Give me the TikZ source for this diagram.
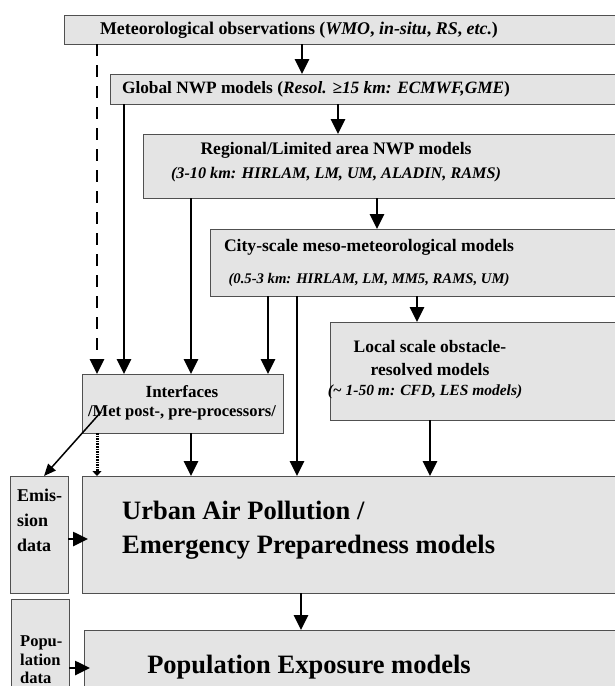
\documentclass[tikz,border=0pt]{standalone}
\usepackage{fontspec}
\setmainfont{Liberation Serif}
\usetikzlibrary{arrows.meta,calc}
\definecolor{boxfill}{HTML}{E4E4E4}
\definecolor{boxline}{HTML}{505050}
\tikzset{
  box/.style={draw=boxline, fill=boxfill, line width=1pt, rectangle, anchor=north west, inner sep=0pt, outer sep=0pt},
  lbl/.style={inner sep=0pt, align=center},
  arr/.style={line width=2.6pt, -{Triangle[width=14pt,length=15pt]}},
  dasharr/.style={line width=2.6pt, dash pattern=on 12pt off 9pt, -{Triangle[width=14pt,length=15pt]}},
  dotarr/.style={line width=3pt, dash pattern=on 1.6pt off 1pt, -{Triangle[width=9pt,length=5pt]}},
  thinarr/.style={line width=1.5pt, -{Triangle[width=10pt,length=12pt]}},
  fs/.style={font=\fontsize{#1}{#1}\selectfont\bfseries},
  fC/.style={font=\fontsize{26.5}{34}\selectfont\bfseries},
}
\begin{document}
\begin{tikzpicture}[x=1pt,y=-1pt]
\path[use as bounding box, clip] (0,0) rectangle (615,686);
% boxes
\node[box, minimum width=556pt, minimum height=29pt] (met) at (64,15) {};
\node[box, minimum width=510pt, minimum height=30pt] (glob) at (110,74) {};
\node[box, minimum width=477pt, minimum height=64pt] (reg) at (143,134) {};
\node[box, minimum width=410pt, minimum height=67pt] (city) at (210,229) {};
\node[box, minimum width=290pt, minimum height=98pt] (local) at (330,322) {};
\node[box, minimum width=201pt, minimum height=59pt] (intf) at (82,374) {};
\node[box, minimum width=58pt, minimum height=117pt] (emis) at (10,476) {};
\node[box, minimum width=538pt, minimum height=117pt] (urban) at (82,476) {};
\node[box, minimum width=58pt, minimum height=100pt] (popd) at (11,599) {};
\node[box, minimum width=536pt, minimum height=70pt] (pop) at (84,630) {};
% texts
\node[lbl, fs=17.9] (mett) at (299,30) {Meteorological observations (\textit{WMO}, \textit{in-situ}, \textit{RS}, \textit{etc.})};
\node[lbl, fs=17.3] (globt) at (316,89) {Global NWP models (\textit{Resol. ≥15 km: ECMWF,GME})};
\node[lbl, fs=17.6] (regt1) at (336,150) {Regional/Limited area NWP models};
\node[lbl, fs=16.2] (regt2) at (336,175) {\textit{(3-10 km: HIRLAM, LM, UM, ALADIN, RAMS)}};
\node[lbl, fs=17.6] (cityt1) at (369,247) {City-scale meso-meteorological models};
\node[lbl, fs=14.7] (cityt2) at (369,280) {\textit{(0.5-3 km: HIRLAM, LM, MM5, RAMS, UM)}};
\node[lbl, fs=17.5] (localt1) at (430,347) {Local scale obstacle-};
\node[lbl, fs=17.5] (localt2) at (430,370) {resolved models};
\node[lbl, fs=15.5] (localt3) at (425,392) {\textit{(\textasciitilde{} 1-50 m: CFD, LES models)}};
\node[lbl, fs=17] (intft1) at (182,392) {Interfaces};
\node[lbl, fs=16.5] (intft2) at (182,413) {/Met post-, pre-processors/};
\node[lbl, fC, align=left, anchor=west] (urbant) at (122,530) {Urban Air Pollution /\\Emergency Preparedness models};
\node[lbl, fC] (popt) at (309,667) {Population Exposure models};
\node[lbl, font=\fontsize{18}{25}\selectfont\bfseries, align=left, anchor=west] (emist) at (17,520) {Emis-\\sion\\data};
\node[lbl, font=\fontsize{16.5}{18.5}\selectfont\bfseries, align=left, anchor=west] (popdt) at (20,660) {Popu-\\lation\\data};
% x positions
\coordinate (c97) at (97,0);
\coordinate (c124) at (124,0);
\coordinate (c191) at (191,0);
\coordinate (c268) at (268,0);
\coordinate (c297) at (297,0);
\coordinate (c301) at (301,0);
\coordinate (c302) at (302,0);
\coordinate (c338) at (338,0);
\coordinate (c377) at (377,0);
\coordinate (c417) at (417,0);
\coordinate (c430) at (430,0);
\coordinate (c44) at (44,0);
\coordinate (y539) at (0,539);
\coordinate (y668) at (0,668);
\coordinate (dstart) at (101,412);
% connectors
\draw[arr] (met.south -| c302) -- (glob.north -| c302);
\draw[arr] (glob.south -| c338) -- (reg.north -| c338);
\draw[arr] (reg.south -| c377) -- (city.north -| c377);
\draw[arr] (city.south -| c417) -- (local.north -| c417);
\draw[dasharr] (met.south -| c97) -- (intf.north -| c97);
\draw[arr] (glob.south -| c124) -- (intf.north -| c124);
\draw[arr] (reg.south -| c191) -- (intf.north -| c191);
\draw[arr] (city.south -| c268) -- (intf.north -| c268);
\draw[arr] (city.south -| c297) -- (urban.north -| c297);
\draw[arr] (local.south -| c430) -- (urban.north -| c430);
\draw[arr] (intf.south -| c191) -- (urban.north -| c191);
\draw[dotarr] (intf.south -| c97) -- (urban.north -| c97);
\draw[thinarr] (dstart) -- (emis.north -| c44);
\draw[arr] (emis.east |- y539) -- ($(urban.west |- y539)+(6,0)$);
\draw[arr] (urban.south -| c301) -- (pop.north -| c301);
\draw[arr] (popd.east |- y668) -- ($(pop.west |- y668)+(6,0)$);
\end{tikzpicture}
\end{document}
